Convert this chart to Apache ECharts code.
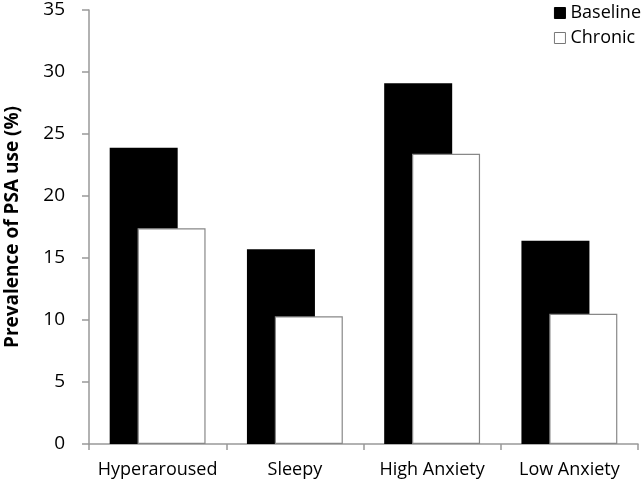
<!DOCTYPE html>
<html><head><meta charset="utf-8">
<script src="https://cdn.jsdelivr.net/npm/echarts@6/dist/echarts.min.js"></script>
<style>html,body{margin:0;padding:0;background:#fff}#c{width:643px;height:483px}</style>
</head><body><div id="c"></div>
<script>
const categories = ['Hyperaroused', 'Sleepy', 'High Anxiety', 'Low Anxiety'];
const baseline = [23.9, 15.7, 29.1, 16.4];
const chronic = [17.4, 10.3, 23.4, 10.5];
const yTicks = [0, 5, 10, 15, 20, 25, 30, 35];
const FONT = '"Open Sans", "Liberation Sans", sans-serif';
const chart = echarts.init(document.getElementById('c'));
chart.setOption({
  animation: false,
  textStyle: {fontFamily: FONT},
  grid: {left: 89, right: 5, top: 10, bottom: 39, containLabel: false, outerBoundsMode: 'none'},
  legend: {
    orient: 'vertical', right: -3, top: -1, itemWidth: 11, itemHeight: 11, itemGap: 7,
    icon: 'rect',
    textStyle: {fontSize: 18, color: '#000', fontFamily: FONT},
    data: [
      {name: 'Baseline', itemStyle: {color: '#000', borderColor: '#000', borderWidth: 1}},
      {name: 'Chronic', itemStyle: {color: '#fff', borderColor: '#777', borderWidth: 1}}
    ]
  },
  xAxis: {
    type: 'category', data: categories,
    axisLine: {lineStyle: {color: '#999', width: 1.5}},
    axisTick: {show: true, length: 6, lineStyle: {color: '#999', width: 1.5}},
    axisLabel: {fontSize: 18, color: '#000', margin: 17, fontFamily: FONT, interval: 0, hideOverlap: false}
  },
  yAxis: {
    type: 'value', min: yTicks[0], max: yTicks[yTicks.length - 1], interval: 5,
    name: 'Prevalence of PSA use (%)', nameLocation: 'middle', nameGap: 67,
    nameTextStyle: {fontSize: 19, fontWeight: 'bold', color: '#000', fontFamily: FONT},
    axisLine: {show: true, lineStyle: {color: '#999', width: 1.5}},
    axisTick: {show: true, length: 7, lineStyle: {color: '#999', width: 1.5}},
    splitLine: {show: false},
    axisLabel: {fontSize: 19, color: '#000', margin: 24, fontFamily: FONT}
  },
  series: [
    {name: 'Baseline', type: 'bar', data: baseline, barWidth: 68, barGap: '-59%',
     itemStyle: {color: '#000', borderColor: '#000', borderWidth: 0}},
    {name: 'Chronic', type: 'bar', data: chronic, barWidth: 68,
     itemStyle: {color: '#fff', borderColor: '#888', borderWidth: 1.2}}
  ]
});
</script></body></html>
